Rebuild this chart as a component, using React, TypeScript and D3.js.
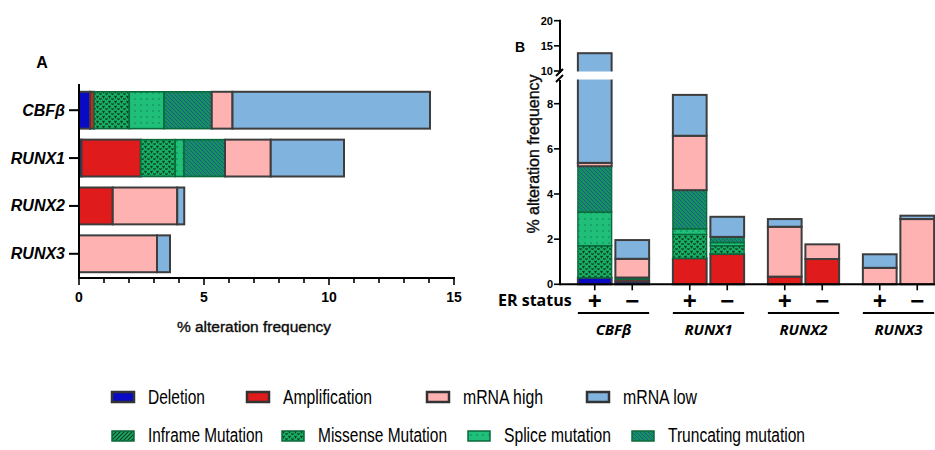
import React from 'react';
import * as d3 from 'd3';

// gene names and alteration types
const genes = ['CBFβ', 'RUNX1', 'RUNX2', 'RUNX3'];
const erStatus = ['+', '−'];
const stackKeys = [
  'Deletion',
  'Amplification',
  'Inframe Mutation',
  'Missense Mutation',
  'Splice mutation',
  'Truncating mutation',
  'mRNA high',
  'mRNA low',
];
const legendRow1 = ['Deletion', 'Amplification', 'mRNA high', 'mRNA low'];
const legendRow2 = ['Inframe Mutation', 'Missense Mutation', 'Splice mutation', 'Truncating mutation'];

// panel A: % per gene (segment sizes, in stack order)
const aDeletion = [0.44, 0.1, 0, 0];
const aAmplification = [0.16, 2.37, 1.35, 0];
const aInframe = [0, 0, 0, 0];
const aMissense = [1.41, 1.38, 0, 0];
const aSplice = [1.39, 0.35, 0, 0];
const aTruncating = [1.91, 1.64, 0, 0];
const aHigh = [0.83, 1.83, 2.58, 3.12];
const aLow = [7.9, 2.93, 0.28, 0.52];

// panel B: % per gene x ER status (CBFβ+, CBFβ−, RUNX1+, RUNX1−, ...)
const bDeletion = [0.29, 0.12, 0, 0, 0, 0, 0, 0];
const bAmplification = [0, 0.1, 1.15, 1.34, 0.34, 1.12, 0, 0];
const bInframe = [0, 0, 0, 0, 0, 0, 0, 0];
const bMissense = [1.42, 0, 1.06, 0.37, 0, 0, 0, 0];
const bSplice = [1.49, 0, 0.25, 0.14, 0, 0, 0, 0];
const bTruncating = [2.03, 0.08, 1.71, 0.25, 0, 0, 0, 0];
const bHigh = [0.15, 0.83, 2.41, 0, 2.21, 0.65, 0.73, 2.89];
const bLow = [8.16, 0.83, 1.81, 0.89, 0.34, 0, 0.6, 0.15];

const aTicks = [0, 5, 10, 15];
const bTicksLow = [0, 2, 4, 6, 8];
const bTicksHigh = [10, 15, 20];

const fills: Record<string, string> = {
  Deletion: '#0a0ac4',
  Amplification: '#df1b1b',
  'Inframe Mutation': 'url(#pInframe)',
  'Missense Mutation': 'url(#pMissense)',
  'Splice mutation': 'url(#pSplice)',
  'Truncating mutation': 'url(#pTrunc)',
  'mRNA high': '#ffb2b2',
  'mRNA low': '#80b3de',
};
const isMut = (k: string) => /Mutation|mutation/.test(k);
const strokeOf = (k: string) => (isMut(k) ? '#0b6a3b' : '#3d3d3d');

const rowsA = genes.map((g, i) => ({
  key: g,
  Deletion: aDeletion[i],
  Amplification: aAmplification[i],
  'Inframe Mutation': aInframe[i],
  'Missense Mutation': aMissense[i],
  'Splice mutation': aSplice[i],
  'Truncating mutation': aTruncating[i],
  'mRNA high': aHigh[i],
  'mRNA low': aLow[i],
}));

const barsB = genes.flatMap(g => erStatus.map(s => ({ gene: g, er: s })));
const rowsB = barsB.map((b, i) => ({
  key: b.gene + b.er,
  gene: b.gene,
  er: b.er,
  Deletion: bDeletion[i],
  Amplification: bAmplification[i],
  'Inframe Mutation': bInframe[i],
  'Missense Mutation': bMissense[i],
  'Splice mutation': bSplice[i],
  'Truncating mutation': bTruncating[i],
  'mRNA high': bHigh[i],
  'mRNA low': bLow[i],
}));

const stack = d3.stack<any>().keys(stackKeys);
const seriesA = stack(rowsA);
const seriesB = stack(rowsB);

const App = () => {
  // panel A scales
  const xA = d3.scaleLinear().domain([0, 15]).range([79, 454]);
  const yA = d3.scaleBand().domain(genes).range([87, 277]).paddingInner(0.23).paddingOuter(0.1);
  const axisYA = 278;

  // panel B scales (broken y axis: 0-9.05 lower, 10-20 upper)
  const yB = d3.scaleLinear().domain([0, 9.05, 10, 20]).range([284.3, 80, 71, 20.7]);
  const xB0 = d3.scaleBand().domain(genes).range([566, 946]).paddingInner(0.25).paddingOuter(0.125);
  const xB1 = d3.scaleBand().domain(erStatus).range([0, xB0.bandwidth()]).paddingInner(0.1);
  const bx = (d: any) => (xB0(d.gene) as number) + (xB1(d.er) as number);
  const axisXB = 560;

  const sans = 'Liberation Sans, Arial, sans-serif';
  const open = 'Open Sans, Liberation Sans, sans-serif';

  // legend layout (narrow font look via textLength)
  const legendX1 = [112, 247, 427, 587];
  const legendX2 = [112, 282, 468, 632];
  const legendW1 = [57, 89, 80, 74];
  const legendW2 = [115, 129, 107, 137];

  return (
    <svg width={935} height={450} style={{ position: 'absolute', left: 0, top: 0, background: '#fff' }}>
      <defs>
        <pattern id="pMissense" width="6" height="5" patternUnits="userSpaceOnUse">
          <rect width="6" height="5" fill="#17ad63" />
          <path d="M0.5,0.8 L1.5,2.6 L2.5,0.8 M3.5,3.3 L4.5,5 L5.5,3.3" stroke="#0c3a22" strokeWidth="1.1" fill="none" />
        </pattern>
        <pattern id="pSplice" width="6" height="6" patternUnits="userSpaceOnUse">
          <rect width="6" height="6" fill="#1fbf79" />
          <circle cx="3" cy="3" r="0.7" fill="#0e6e4c" />
        </pattern>
        <pattern id="pTrunc" width="4" height="4" patternUnits="userSpaceOnUse">
          <rect width="4" height="4" fill="#15905e" />
          <path d="M-1,-1 L5,5 M-1,3 L1,5 M3,-1 L5,1" stroke="#1d5690" strokeWidth="0.9" />
        </pattern>
        <pattern id="pInframe" width="4" height="4" patternUnits="userSpaceOnUse">
          <rect width="4" height="4" fill="#17ad63" />
          <path d="M-1,5 L5,-1 M-1,1 L1,-1 M3,5 L5,3" stroke="#0c3a22" strokeWidth="1.2" />
        </pattern>
      </defs>

      {/* ---------- Panel A ---------- */}
      <text x={42} y={68} textAnchor="middle" fontFamily={sans} fontWeight="bold" fontSize={16}>A</text>
      {seriesA.map(s =>
        s.map((d, i) =>
          d[1] - d[0] > 0 ? (
            <rect
              key={s.key + i}
              x={xA(d[0])}
              y={yA(genes[i])}
              width={xA(d[1]) - xA(d[0])}
              height={yA.bandwidth()}
              fill={fills[s.key]}
              stroke={strokeOf(s.key)}
              strokeWidth={isMut(s.key) ? 1.6 : 2}
            />
          ) : null
        )
      )}
      {/* y axis A */}
      <line x1={79} x2={79} y1={84} y2={axisYA + 1} stroke="#000" strokeWidth={2} />
      {genes.map(g => (
        <g key={g}>
          <line x1={69} x2={79} y1={(yA(g) as number) + yA.bandwidth() / 2} y2={(yA(g) as number) + yA.bandwidth() / 2} stroke="#000" strokeWidth={2} />
          <text x={65} y={(yA(g) as number) + yA.bandwidth() / 2 + 5.5} textAnchor="end" fontFamily={sans} fontWeight="bold" fontStyle="italic" fontSize={16}>{g}</text>
        </g>
      ))}
      {/* x axis A */}
      <line x1={78} x2={xA(15) + 1} y1={axisYA} y2={axisYA} stroke="#000" strokeWidth={2} />
      {d3.range(0, 16).map(v => (
        <line key={v} x1={xA(v)} x2={xA(v)} y1={axisYA} y2={axisYA + (v % 5 === 0 ? 7 : 5)} stroke="#000" strokeWidth={1.6} />
      ))}
      {aTicks.map(v => (
        <text key={v} x={xA(v)} y={302} textAnchor="middle" fontFamily={sans} fontWeight="bold" fontSize={14}>{v}</text>
      ))}
      <text x={254} y={332} textAnchor="middle" fontFamily={sans} fontSize={15.5} stroke="#222" strokeWidth={0.4}>% alteration frequency</text>

      {/* ---------- Panel B ---------- */}
      <text x={520} y={52} textAnchor="middle" fontFamily={sans} fontWeight="bold" fontSize={14}>B</text>
      {seriesB.map(s =>
        s.map((d, i) =>
          d[1] - d[0] > 0 ? (
            <rect
              key={s.key + i}
              x={bx(rowsB[i])}
              y={yB(d[1])}
              width={xB1.bandwidth()}
              height={yB(d[0]) - yB(d[1])}
              fill={fills[s.key]}
              stroke={strokeOf(s.key)}
              strokeWidth={isMut(s.key) ? 1.4 : 2}
            />
          ) : null
        )
      )}
      {/* axis break gap */}
      <rect x={axisXB + 4} y={yB(10) + 0.5} width={100} height={yB(9.05) - yB(10) - 1} fill="#fff" />
      {/* y axis B */}
      <line x1={axisXB} x2={axisXB} y1={yB(20) - 1} y2={yB(10) + 2} stroke="#000" strokeWidth={2} />
      <line x1={axisXB} x2={axisXB} y1={yB(9.05)} y2={yB(0) + 1} stroke="#000" strokeWidth={2} />
      <path d={`M${axisXB - 4},${yB(10) + 5} L${axisXB + 3},${yB(10) - 2} M${axisXB - 4},${yB(9.05) + 2} L${axisXB + 3},${yB(9.05) - 5}`} stroke="#000" strokeWidth={2} />
      {[...bTicksLow, ...bTicksHigh].map(v => (
        <g key={v}>
          <line x1={axisXB - 6} x2={axisXB} y1={yB(v)} y2={yB(v)} stroke="#000" strokeWidth={1.6} />
          <text x={axisXB - 7} y={yB(v) + 4} textAnchor="end" fontFamily={sans} fontWeight="bold" fontSize={11}>{v}</text>
        </g>
      ))}
      <text transform="translate(533,154) rotate(-90)" dy="0.35em" textAnchor="middle" fontFamily={sans} fontSize={16} stroke="#222" strokeWidth={0.4}>% alteration frequency</text>
      {/* x axis B */}
      <line x1={axisXB} x2={935} y1={yB(0)} y2={yB(0)} stroke="#000" strokeWidth={2} />
      {rowsB.map(r => (
        <g key={r.key}>
          <line x1={bx(r) + xB1.bandwidth() / 2} x2={bx(r) + xB1.bandwidth() / 2} y1={yB(0)} y2={yB(0) + 6} stroke="#000" strokeWidth={1.6} />
          <text x={bx(r) + xB1.bandwidth() / 2} y={309} textAnchor="middle" fontFamily={sans} fontWeight="bold" fontSize={24}>{r.er}</text>
        </g>
      ))}
      <text x={498} y={306} fontFamily={open} fontWeight="bold" fontSize={16}>ER status</text>
      {genes.map(g => (
        <g key={g}>
          <line x1={xB0(g) as number} x2={(xB0(g) as number) + xB0.bandwidth()} y1={313} y2={313} stroke="#000" strokeWidth={2} />
          <text x={(xB0(g) as number) + xB0.bandwidth() / 2} y={335} textAnchor="middle" fontFamily={open} fontWeight="bold" fontStyle="italic" fontSize={15}>{g}</text>
        </g>
      ))}

      {/* ---------- Legend ---------- */}
      {legendRow1.map((k, i) => (
        <g key={k}>
          <rect x={legendX1[i]} y={392} width={22} height={10} fill={fills[k]} stroke="#333" strokeWidth={2.5} />
          <text x={legendX1[i] + 36} y={404} fontFamily={sans} fontSize={20} textLength={legendW1[i]} lengthAdjust="spacingAndGlyphs">{k}</text>
        </g>
      ))}
      {legendRow2.map((k, i) => (
        <g key={k}>
          <rect x={legendX2[i]} y={431} width={22} height={10} fill={fills[k]} stroke="#0b6a3b" strokeWidth={1.5} />
          <text x={legendX2[i] + 36} y={442} fontFamily={sans} fontSize={20} textLength={legendW2[i]} lengthAdjust="spacingAndGlyphs">{k}</text>
        </g>
      ))}
    </svg>
  );
};

export default App;
